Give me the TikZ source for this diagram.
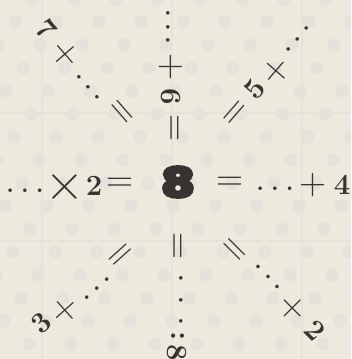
\documentclass[tikz,border=0pt]{standalone}
\usepackage{fontspec}
\usepackage{tikz}
\newfontfamily\heavyfont{DejaVu Sans}
\definecolor{paperbeige}{RGB}{237,233,221}
\definecolor{paperdot}{RGB}{228,226,218}
\definecolor{paperline}{RGB}{229,227,217}
\definecolor{inkgray}{RGB}{55,51,48}
\newcommand{\spacedots}[1]{.\hspace{#1}.\hspace{#1}.}

\begin{document}
\begin{tikzpicture}[x=.03cm,y=-.03cm,
  digit/.style={inkgray,inner sep=0pt,font=\fontsize{25}{25}\selectfont\bfseries},
  sym/.style={inkgray,inner sep=0pt,font=\fontsize{32}{32}\selectfont},
  dotrow/.style={inkgray,inner sep=0pt,font=\fontsize{21}{21}\selectfont\bfseries}]
 \fill[paperbeige] (0,0) rectangle (351,359);
 \useasboundingbox (0,0) rectangle (351,359);
 % faint printed background
 \begin{scope}
  \clip (0,0) rectangle (351,359);
  \foreach \j in {-1,...,15}
   \foreach \i in {-1,...,15}
    \fill[paperdot] ({15+42*\i-17*\j},{22+23*\j}) circle (2mm);
  \foreach \x in {42,172,302}
   \draw[paperline,line width=1.2pt] (\x,0) -- (\x,359);
  \foreach \y in {113,241}
   \draw[paperline,line width=1.2pt] (0,\y) -- (351,\y);
 \end{scope}
 % centre
 \node[inkgray,inner sep=0pt,xscale=1.2,
  font=\fontsize{34}{34}\selectfont\heavyfont\bfseries] (eight) at (178,182)
  {\special{pdf:literal direct 2 Tr 3 w}8\special{pdf:literal direct 0 Tr}};
 % right
 \node[sym] (eqr) at (230,184) {=};
 \node[dotrow] (dotsr) at (275,189) {\spacedots{6pt}};
 \node[sym] (plusr) at (313,185) {+};
 \node[digit] (fourr) at (342,185) {4};
 % left
 \node[dotrow] (dotsl) at (25,191) {\spacedots{6pt}};
 \node[sym,font=\fontsize{46}{46}\selectfont] (timesl) at (65,187) {×};
 \node[digit] (twol) at (94,186) {2};
 \node[sym] (eql) at (120,185) {=};
 % up
 \node[dotrow,rotate=-90] (dotsu) at (168,27) {\spacedots{5pt}};
 \node[sym,rotate=-90] (plusu) at (171,67) {+};
 \node[digit,rotate=-90] (sixu) at (171,97) {6};
 \node[sym,rotate=-90] (equ) at (172,128) {=};
 % down
 \node[sym,rotate=-90] (eqd) at (175,246) {=};
 \node[dotrow,rotate=-90] (dotsd) at (181,300) {\spacedots{12pt}};
 \node[digit,rotate=-90] (colond) at (178,336) {:};
 \node[digit,rotate=-90] (eightd) at (177,353) {8};
 % up right
 \node[sym,rotate=49] (equr) at (236,114) {=};
 \node[digit,rotate=49] (fiveur) at (255,89) {5};
 \node[sym,rotate=49] (plusur) at (276,71) {+};
 \node[dotrow,rotate=49] (dotsur) at (298,39) {\spacedots{5pt}};
 % up left
 \node[digit,rotate=-49] (sevenul) at (46,29) {7};
 \node[sym,rotate=-49] (plusul) at (65,55) {+};
 \node[dotrow,rotate=-49] (dotsul) at (88,87) {\spacedots{5pt}};
 \node[sym,rotate=-49] (equl) at (120,113) {=};
 % down left
 \node[digit,rotate=42] (threedl) at (41,323) {3};
 \node[sym,rotate=42] (plusdl) at (65,311) {+};
 \node[dotrow,rotate=42] (dotsdl) at (97,289) {\spacedots{5pt}};
 \node[sym,rotate=42] (eqdl) at (122,257) {=};
 % down right
 \node[sym,rotate=-45] (eqdr) at (233,251) {=};
 \node[dotrow,rotate=-45] (dotsdr) at (268,277) {\spacedots{5pt}};
 \node[sym,rotate=-45] (plusdr) at (293,308) {+};
 \node[digit,rotate=-45] (twodr) at (315,331) {2};
\end{tikzpicture}
\end{document}
